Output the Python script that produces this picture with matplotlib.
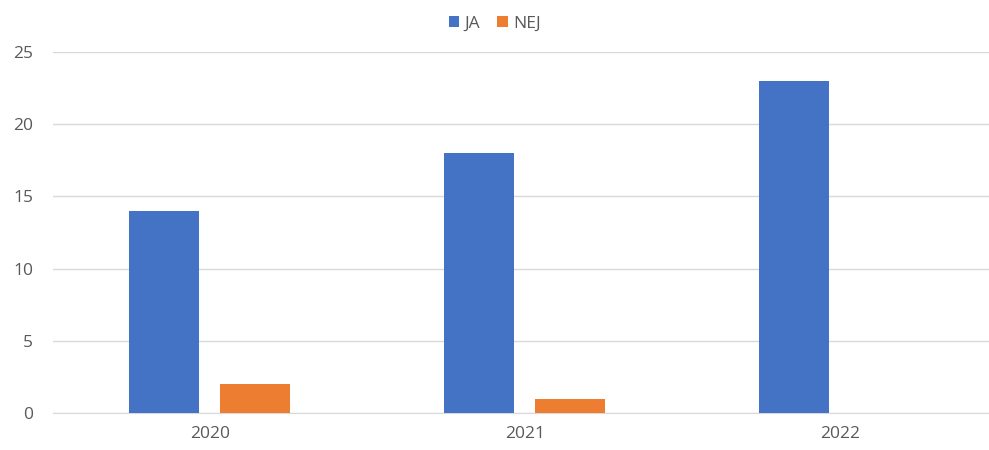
import numpy as np
import matplotlib.pyplot as plt

years = ['2020', '2021', '2022']
ja = [14, 18, 23]
nej = [2, 1, 0]

blue = '#4472C4'
orange = '#ED7D31'
text_col = '#595959'

plt.rcParams['font.family'] = ['Open Sans', 'DejaVu Sans']

fig = plt.figure(figsize=(9.89, 4.5), dpi=100)
ax = fig.add_axes([52.5 / 989, 37 / 450, 945 / 989, 361 / 450])

x = np.arange(len(years))
w = 0.222
ax.bar(x - 0.145, ja, w, color=blue, label='JA', zorder=3)
ax.bar(x + 0.143, nej, w, color=orange, label='NEJ', zorder=3)

ax.set_xlim(-0.5, 2.5)
ax.set_ylim(0, 25)
ax.set_yticks(range(0, 26, 5))
ax.set_xticks(x)
ax.set_xticklabels(years)
ax.grid(axis='y', color='#D9D9D9', linewidth=1, zorder=0)
for s in ['top', 'right', 'left']:
    ax.spines[s].set_visible(False)
ax.spines['bottom'].set_color('#D9D9D9')
ax.tick_params(axis='both', length=0, colors=text_col, labelsize=12.5)
ax.tick_params(axis='y', pad=14)
ax.tick_params(axis='x', pad=9)

fig.legend(loc='upper center', bbox_to_anchor=(0.5, 1.0), ncol=2, frameon=False,
           fontsize=12.5, labelcolor=text_col, handlelength=0.6, handleheight=0.6,
           handletextpad=0.3, columnspacing=1.0)

fig.savefig('out.png', dpi=100)
